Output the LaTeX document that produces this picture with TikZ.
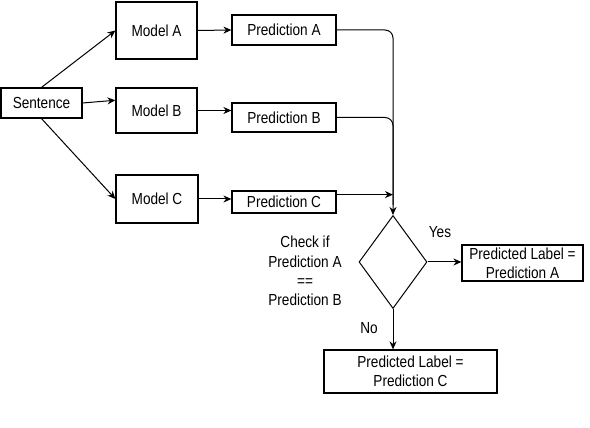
\documentclass[tikz,border=0pt]{standalone}
\usepackage{fontspec}
\newfontfamily\diagfont{Liberation Sans}[FakeStretch=0.85]
\newfontfamily\captfont{Liberation Serif}
\usetikzlibrary{calc}
\usetikzlibrary{positioning}
\usetikzlibrary{arrows.meta}
\usetikzlibrary{shapes.geometric}

\begin{document}
\begin{tikzpicture}[x=1pt, y=1pt, ->, >={Stealth[length=8pt,width=7pt]}, line width=1pt, font=\diagfont\fontsize{16}{19.3}\selectfont]
    \tikzstyle{block}=[draw=black,rectangle,fill=none,line width=1.2pt,inner sep=0pt,align=center]
    \tikzstyle{decision}=[draw=black,diamond,fill=none,inner sep=0pt,minimum width=68pt,minimum height=93pt]
    \tikzstyle{lbl}=[inner sep=0pt,align=center]

    \clip (0,0) rectangle (590,428);
    \useasboundingbox (0,0) rectangle (590,428);

    \node[block, minimum width=81pt, minimum height=30pt] (sent) at (41.5, 325) {Sentence};
    \node[block, minimum width=81pt, minimum height=57pt] (modA) at (156.5, 397.5) {Model A};
    \node[block, minimum width=81pt, minimum height=45pt] (modB) at (156.5, 317.5) {Model B};
    \node[block, minimum width=82pt, minimum height=48pt] (modC) at (157, 229) {Model C};

    \node[block, minimum width=104pt, minimum height=30pt] (predA) at (284, 398) {Prediction A};
    \node[block, minimum width=104pt, minimum height=29pt] (predB) at (284, 310.5) {Prediction B};
    \node[block, minimum width=104pt, minimum height=22pt] (predC) at (284, 226) {Prediction C};

    \node[decision] (check) at (393, 166) {};
    \node[block, minimum width=121pt, minimum height=36pt] (resA) at (522.5, 165) {Predicted Label =\\Prediction A};
    \node[block, minimum width=173pt, minimum height=43pt] (resC) at (410.5, 56.5) {Predicted Label =\\Prediction C};

    \draw (sent.north) -- (modA.west);
    \draw (sent.east) -- (modB.166);
    \draw (sent.south) -- (modC.west);

    \draw (modA.east) -- (predA.west);
    \draw (modB.east) -- (modB.east -| predB.west);
    \draw (modC.east) -- (modC.east -| predC.west);

    \draw[rounded corners=8pt] (predA.east) -| (check.north);
    \draw[-, rounded corners=8pt] (predB.east) -| ($(check.north)+(0,10)$);
    \draw (predC.8) -- (predC.8 -| check.north);

    \draw (check.east) -- (check.east -| resA.west);
    \draw (check.south) -- (check.south |- resC.north);

    \node[lbl] (cond) at (305, 157) {Check if\\Prediction A\\==\\Prediction B};
    \node[lbl] (yes) at (440, 196) {Yes};
    \node[lbl] (no) at (369, 100) {No};

    % caption, cut by the lower edge as in the scan
    \node[lbl, font=\captfont\fontsize{21.2}{24}\selectfont, anchor=base] (capt) at (352, -19) {Figure 1: Deciding the final label of Task A};
\end{tikzpicture}
\end{document}
